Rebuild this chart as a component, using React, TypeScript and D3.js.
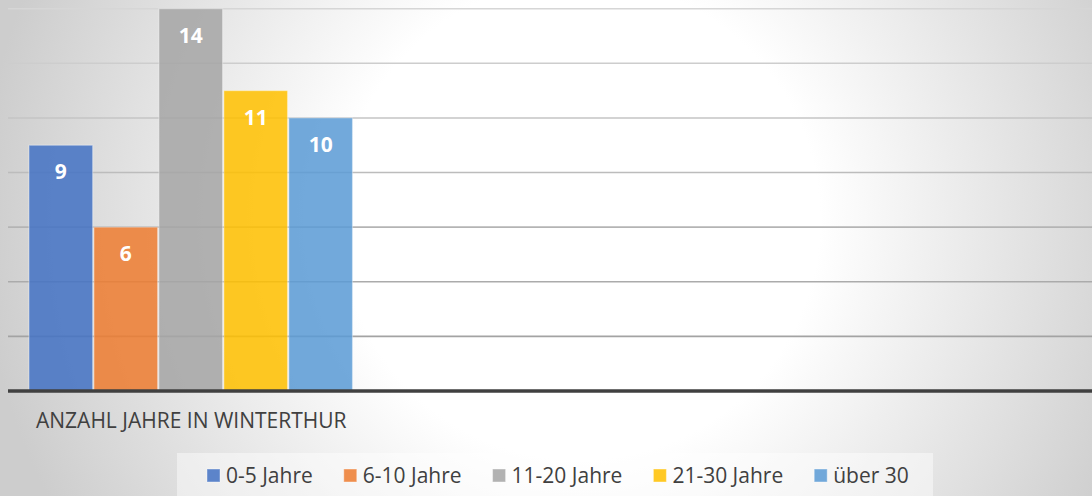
import React from "react";
import * as d3 from "d3";

const series = ["0-5 Jahre", "6-10 Jahre", "11-20 Jahre", "21-30 Jahre", "über 30"];
const values = [9, 6, 14, 11, 10];
const colors = ["#4472C4", "#ED7D31", "#A5A5A5", "#FFC000", "#5B9BD5"];
const yTicks = [0, 2, 4, 6, 8, 10, 12, 14];
const axisTitle = "ANZAHL JAHRE IN WINTERTHUR";

const W = 1092;
const H = 496;
const FONT = "'Open Sans', sans-serif";

function measure(text: string, font: string): number {
  const c = document.createElement("canvas");
  const ctx = c.getContext("2d")!;
  ctx.font = font;
  return ctx.measureText(text).width;
}

export default function App() {
  const y = d3.scaleLinear().domain([0, 14]).range([391, 8.7]);
  const x = d3.scaleBand<string>().domain(series).range([29, 352.5]).paddingInner(0.02).paddingOuter(0);
  const gridColor = d3.scaleLinear<string>().domain([14, 0]).range(["#d6d6d6", "#9a9a9a"]);

  const legendFont = `21px ${FONT}`;
  const legendItems: { label: string; color: string; x: number }[] = [];
  let lx = 207;
  series.forEach((s, i) => {
    legendItems.push({ label: s, color: colors[i], x: lx });
    lx += 13 + 6 + measure(s, legendFont) + 31;
  });

  return (
    <svg width={W} height={H} style={{ position: "absolute", left: 0, top: 0, display: "block" }}>
      <defs>
        <radialGradient id="bg" gradientUnits="userSpaceOnUse" cx={580} cy={220} r={600}>
          <stop offset="0" stopColor="#ffffff" />
          <stop offset="0.4" stopColor="#ffffff" />
          <stop offset="1" stopColor="#cdcdcd" />
        </radialGradient>
      </defs>
      <rect x={0} y={0} width={W} height={H} fill="url(#bg)" />
      {yTicks.filter((t) => t > 0).map((t) => (
        <line key={t} x1={8} x2={W} y1={y(t)} y2={y(t)} stroke={gridColor(t)} strokeWidth={1.6} />
      ))}
      {series.map((s, i) => (
        <rect
          key={s}
          x={x(s)!}
          y={y(values[i])}
          width={x.bandwidth()}
          height={y(0) - y(values[i])}
          fill={colors[i]}
          fillOpacity={0.86}
          stroke="#ffffff"
          strokeOpacity={0.35}
          strokeWidth={1.2}
        />
      ))}
      <line x1={8} x2={W} y1={y(0)} y2={y(0)} stroke="#404040" strokeWidth={3.5} />
      {series.map((s, i) => (
        <text
          key={s}
          x={x(s)! + x.bandwidth() / 2}
          y={y(values[i]) + 34}
          textAnchor="middle"
          fill="#ffffff"
          fontFamily={FONT}
          fontWeight={700}
          fontSize={21}
        >
          {values[i]}
        </text>
      ))}
      <text x={36} y={428} fill="#404040" fontFamily={FONT} fontSize={21}>
        {axisTitle}
      </text>
      <rect x={177} y={453} width={756} height={50} fill="#ffffff" fillOpacity={0.45} />
      {legendItems.map((it) => (
        <g key={it.label}>
          <rect x={it.x} y={469} width={13} height={13} fill={it.color} fillOpacity={0.86} stroke="#ffffff" strokeOpacity={0.4} />
          <text x={it.x + 19} y={483} fill="#404040" fontFamily={FONT} fontSize={21}>
            {it.label}
          </text>
        </g>
      ))}
    </svg>
  );
}
